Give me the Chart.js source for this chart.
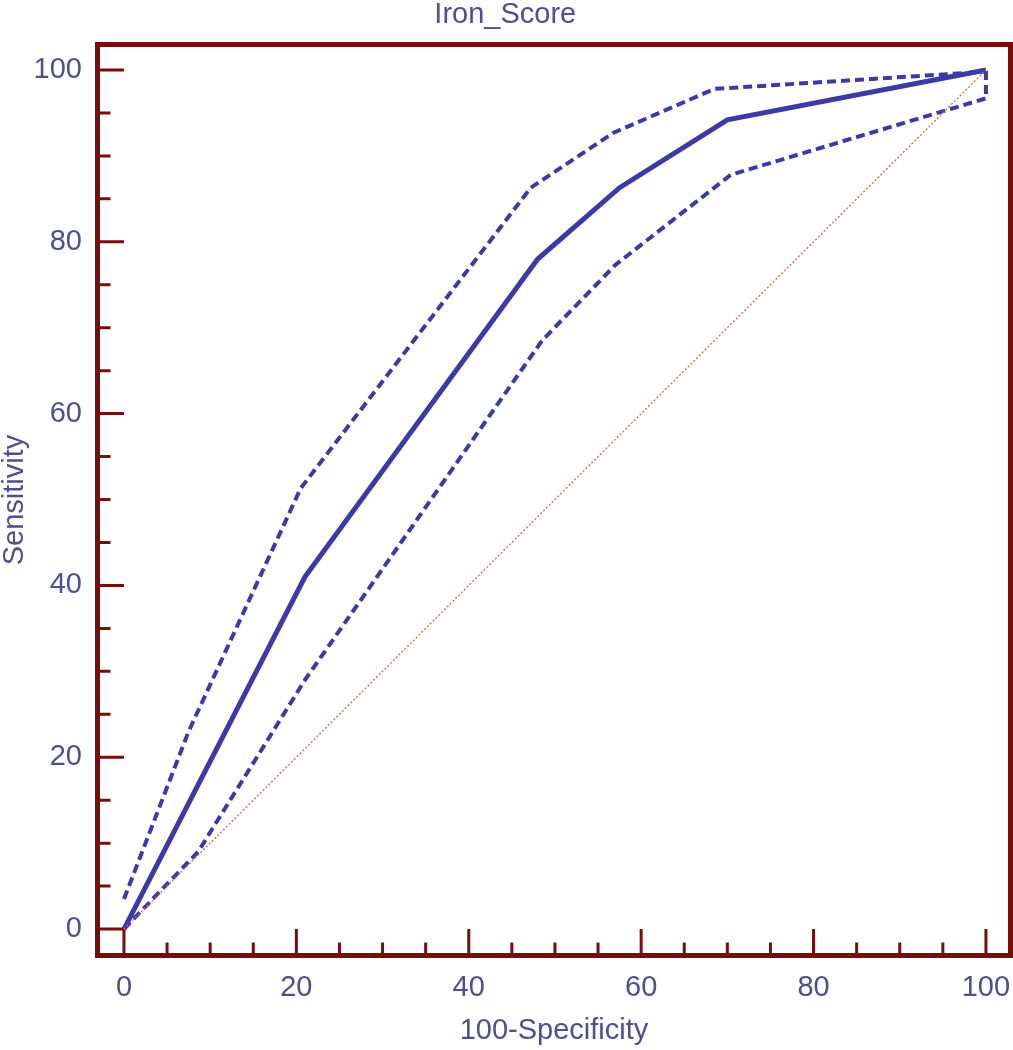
<!DOCTYPE html>
<html>
<head>
<meta charset="utf-8">
<script src="https://cdn.jsdelivr.net/npm/chart.js@4"></script>
<style>
  body { margin: 0; background: #fff; }
  #wrap { width: 1013px; height: 1050px; }
</style>
</head>
<body>
<div id="wrap"><canvas id="roc" width="1013" height="1050"></canvas></div>
<script>
// ROC curve for Iron_Score
var fprRoc = [0, 21, 48, 57.5, 70, 100];
var tprRoc = [0, 41, 78, 86.3, 94.2, 100];

var fprUpper = [0, 7.5, 20.5, 47.2, 56.8, 68.5, 100];
var tprUpper = [3.5, 23, 51.3, 86.3, 92.7, 97.8, 99.8];

var fprLower = [0, 8.6, 21, 48.5, 57, 70.4, 100, 100];
var tprLower = [0, 9, 29, 68.5, 77.3, 87.8, 96.7, 100];

var refX = [0, 100];
var refY = [0, 100];

var xTicks = [0, 20, 40, 60, 80, 100];
var yTicks = [0, 20, 40, 60, 80, 100];

var blue = "rgb(58, 58, 168)";
var textCol = "rgb(78, 78, 145)";
var frameCol = "rgb(122, 12, 12)";
var fontFam = "Liberation Sans, Arial, sans-serif";

function pts(xs, ys) {
    return xs.map(function (v, i) { return { x: v, y: ys[i] }; });
}

// frame + inward tick marks (major every 20, minor every 5)
var framePlugin = {
    id: "frame",
    beforeDatasetsDraw: function (chart) {
        var ctx = chart.ctx, a = chart.chartArea;
        var xs = chart.scales.x, ys = chart.scales.y;
        var x0 = xs.getPixelForValue(0), y0 = ys.getPixelForValue(0);
        ctx.save();
        ctx.strokeStyle = frameCol;
        ctx.lineWidth = 3;
        ctx.beginPath();
        for (var v = 0; v <= 100; v += 5) {
            var major = v % 20 === 0;
            var px = xs.getPixelForValue(v);
            ctx.moveTo(px, a.bottom);
            ctx.lineTo(px, major ? y0 : a.bottom - 13);
            var py = ys.getPixelForValue(v);
            ctx.moveTo(a.left, py);
            ctx.lineTo(major ? x0 : a.left + 13, py);
        }
        ctx.stroke();
        ctx.restore();
    },
    afterDatasetsDraw: function (chart) {
        var ctx = chart.ctx, a = chart.chartArea;
        ctx.save();
        ctx.strokeStyle = frameCol;
        ctx.lineWidth = 5;
        ctx.strokeRect(a.left, a.top, a.right - a.left, a.bottom - a.top);
        ctx.restore();
    }
};

var ctx = document.getElementById("roc").getContext("2d");
var rocChart = new Chart(ctx, {
    type: "line",
    data: {
        datasets: [
            {
                label: "reference",
                data: pts(refX, refY),
                borderColor: "rgb(205, 105, 90)",
                borderWidth: 1.3,
                borderDash: [2, 2],
                pointRadius: 0
            },
            {
                label: "lower",
                data: pts(fprLower, tprLower),
                borderColor: blue,
                borderWidth: 4,
                borderDash: [9, 5],
                pointRadius: 0
            },
            {
                label: "upper",
                data: pts(fprUpper, tprUpper),
                borderColor: blue,
                borderWidth: 4,
                borderDash: [9, 5],
                pointRadius: 0
            },
            {
                label: "Iron_Score",
                data: pts(fprRoc, tprRoc),
                borderColor: blue,
                borderWidth: 5,
                pointRadius: 0
            }
        ]
    },
    options: {
        responsive: false,
        animation: false,
        layout: { padding: { right: 2.5 } },
        plugins: {
            legend: { display: false },
            tooltip: { enabled: false },
            title: {
                display: true,
                text: "Iron_Score",
                color: textCol,
                font: { family: fontFam, size: 29, weight: "normal", lineHeight: 1 },
                padding: { top: 0, bottom: 15.5 }
            }
        },
        scales: {
            x: {
                type: "linear",
                min: -3.07,
                max: 102.85,
                afterBuildTicks: function (s) { s.ticks = xTicks.map(function (v) { return { value: v }; }); },
                afterFit: function (s) { s.height = 94.5; s.paddingLeft = 0; s.paddingRight = 0; },
                grid: { display: false, drawTicks: false },
                border: { display: false },
                ticks: {
                    color: textCol,
                    padding: 15,
                    maxRotation: 0,
                    font: { family: fontFam, size: 29 }
                },
                title: {
                    display: true,
                    text: "100-Specificity",
                    color: textCol,
                    font: { family: fontFam, size: 29, lineHeight: 1.2 },
                    padding: { top: 0, bottom: 2 }
                }
            },
            y: {
                type: "linear",
                min: -3.08,
                max: 102.97,
                afterBuildTicks: function (s) { s.ticks = yTicks.map(function (v) { return { value: v }; }); },
                afterFit: function (s) { s.width = 97.5; s.paddingTop = 0; s.paddingBottom = 0; },
                grid: { display: false, drawTicks: false },
                border: { display: false },
                ticks: {
                    color: textCol,
                    padding: 15.5,
                    font: { family: fontFam, size: 29 }
                },
                title: {
                    display: true,
                    text: "Sensitivity",
                    color: textCol,
                    font: { family: fontFam, size: 29, lineHeight: 1 },
                    padding: { top: 0, bottom: 0 }
                }
            }
        }
    },
    plugins: [framePlugin]
});
</script>
</body>
</html>
